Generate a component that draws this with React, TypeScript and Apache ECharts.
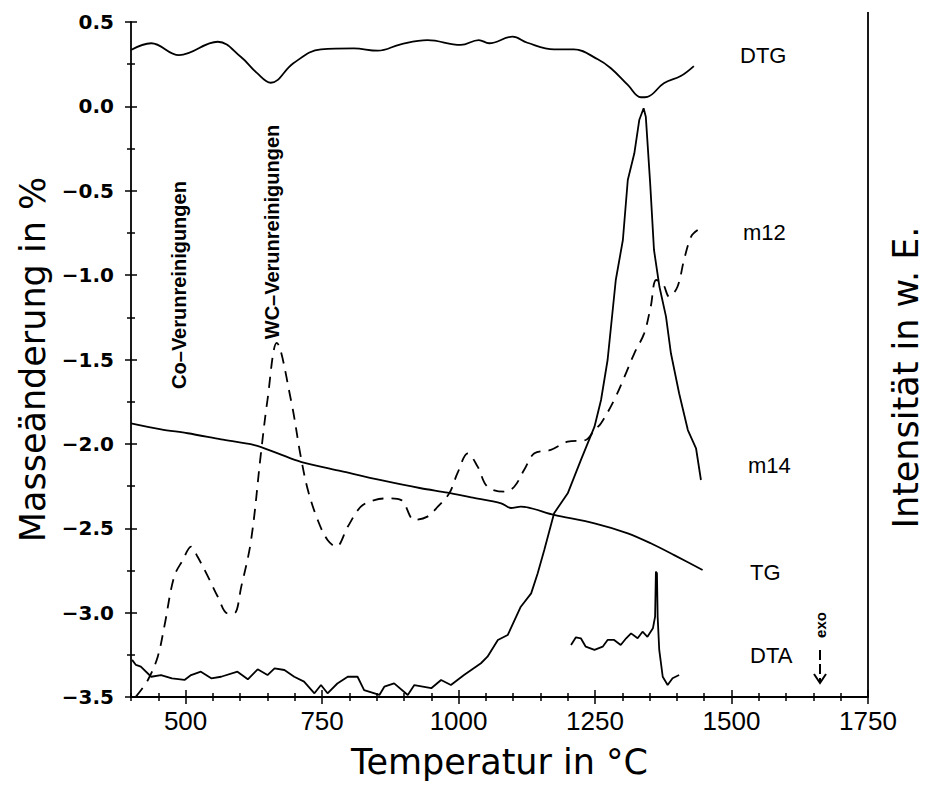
import { useEffect, useRef } from 'react';
import * as echarts from 'echarts';

// Temperature (°C) / value pairs (left-axis units)
const DTG: [number, number][] = [
  [400, 0.334], [437, 0.374], [488, 0.304], [559, 0.383], [601, 0.294],
  [630, 0.2], [656, 0.14], [698, 0.257], [748, 0.338], [808, 0.344],
  [852, 0.33], [894, 0.368], [943, 0.393], [1004, 0.364], [1037, 0.393],
  [1056, 0.374], [1099, 0.413], [1126, 0.377], [1175, 0.338], [1211, 0.338],
  [1255, 0.279], [1279, 0.226], [1310, 0.127], [1334, 0.054], [1346, 0.057],
  [1376, 0.137], [1407, 0.18], [1431, 0.239],
];

const TG: [number, number][] = [
  [400, -1.878], [455, -1.914], [504, -1.937], [565, -1.973], [626, -2.007],
  [669, -2.056], [711, -2.106], [785, -2.161], [858, -2.215], [931, -2.263],
  [980, -2.289], [1023, -2.317], [1078, -2.352], [1096, -2.38], [1114, -2.372],
  [1175, -2.421], [1249, -2.471], [1310, -2.53], [1352, -2.589], [1395, -2.659],
  [1447, -2.747],
];

const M12: [number, number][] = [
  [409, -3.498], [431, -3.399], [449, -3.261], [461, -3.083], [479, -2.787],
  [495, -2.688], [510, -2.609], [522, -2.669], [541, -2.787], [559, -2.906],
  [577, -3.004], [589, -3.004], [602, -2.846], [620, -2.57], [638, -2.056],
  [650, -1.74], [667, -1.402], [693, -1.74], [711, -2.076], [724, -2.273],
  [742, -2.451], [760, -2.57], [776, -2.609], [797, -2.491], [821, -2.372],
  [846, -2.333], [870, -2.323], [895, -2.333], [919, -2.451], [943, -2.431],
  [962, -2.372], [983, -2.293], [998, -2.174], [1017, -2.056], [1035, -2.135],
  [1053, -2.254], [1084, -2.283], [1102, -2.254], [1120, -2.155], [1139, -2.056],
  [1169, -2.036], [1200, -1.987], [1233, -1.977], [1249, -1.918], [1261, -1.878],
  [1285, -1.74], [1304, -1.602], [1322, -1.463], [1340, -1.345], [1352, -1.187],
  [1362, -1.029], [1374, -1.049], [1386, -1.128], [1401, -1.069], [1413, -0.91],
  [1426, -0.772], [1438, -0.733],
];

const M14: [number, number][] = [
  [402, -3.28], [409, -3.31], [418, -3.32], [437, -3.38], [455, -3.37],
  [475, -3.39], [498, -3.399], [510, -3.37], [528, -3.35], [547, -3.389],
  [565, -3.38], [595, -3.35], [614, -3.395], [632, -3.336], [650, -3.37],
  [663, -3.33], [681, -3.34], [699, -3.38], [717, -3.409], [736, -3.478],
  [748, -3.429], [760, -3.478], [778, -3.42], [797, -3.38], [815, -3.38],
  [827, -3.459], [855, -3.488], [864, -3.439], [882, -3.419], [907, -3.488],
  [919, -3.429], [950, -3.448], [968, -3.399], [986, -3.429], [1010, -3.37],
  [1041, -3.3], [1053, -3.261], [1072, -3.162], [1090, -3.133], [1114, -2.965],
  [1133, -2.886], [1145, -2.767], [1157, -2.629], [1175, -2.411], [1200, -2.293],
  [1224, -2.096], [1249, -1.898], [1261, -1.74], [1273, -1.503], [1288, -1.029],
  [1301, -0.792], [1310, -0.436], [1322, -0.278], [1331, -0.081], [1339, -0.011],
  [1343, -0.061], [1351, -0.456], [1358, -0.851], [1368, -1.069], [1380, -1.246],
  [1389, -1.463], [1404, -1.7], [1420, -1.918], [1435, -2.026], [1444, -2.214],
];

const DTA: [number, number][] = [
  [1206, -3.192], [1215, -3.146], [1224, -3.152], [1233, -3.202], [1249, -3.221],
  [1264, -3.202], [1273, -3.162], [1285, -3.162], [1297, -3.192], [1307, -3.152],
  [1316, -3.123], [1328, -3.152], [1337, -3.113], [1346, -3.143], [1356, -3.093],
  [1360, -3.024], [1361.5, -2.757], [1363.4, -2.767], [1364.7, -3.024], [1367.6, -3.221],
  [1374, -3.38], [1383, -3.429], [1392, -3.389], [1404, -3.37],
];

const X_MAJOR = [500, 750, 1000, 1250, 1500, 1750];
const X_MINOR = [
  400, 450, 550, 600, 650, 700, 800, 850, 900, 950, 1050, 1100, 1150, 1200,
  1300, 1350, 1400, 1450, 1550, 1600, 1650, 1700,
];
const CURVE_LABELS = ['DTG', 'm12', 'm14', 'TG', 'DTA'];
const ANNOTATIONS = ['Co\u2013Verunreinigungen', 'WC\u2013Verunreinigungen'];

const BLACK = '#000';
const LW = 1.8;
const TITLE_FONT = { fontFamily: 'DejaVu Sans', fontSize: 35, fontWeight: 'normal', color: BLACK };

function buildOption() {
  const yLabel = (v: number) => (v < 0 ? '\u2212' : '') + Math.abs(v).toFixed(1);
  const baseX = { type: 'value', min: 400, max: 1750, position: 'bottom', splitLine: { show: false } };
  const baseY = { type: 'value', min: -3.5, max: 0.5, interval: 0.5, splitLine: { show: false } };
  const tickStyle = { color: BLACK, width: 1.5 };
  const hiddenLine = { show: false, onZero: false };
  const labelPos: [number, number][] = [[740, 55], [743, 232], [748, 465], [750, 572], [750, 655]];
  const annPos: [number, number][] = [[179, 285], [272, 232]];

  return {
    animation: false,
    backgroundColor: '#fff',
    grid: { left: 131, right: 63, top: 22, bottom: 88 },
    xAxis: [
      {
        ...baseX,
        name: 'Temperatur in °C',
        nameLocation: 'middle',
        nameGap: 47,
        nameTextStyle: TITLE_FONT,
        axisLine: { show: true, onZero: false, lineStyle: { color: BLACK, width: LW } },
        axisTick: { show: true, customValues: X_MAJOR, length: 7, lineStyle: tickStyle },
        axisLabel: {
          show: true, customValues: X_MAJOR, margin: 11, color: BLACK,
          fontFamily: 'Liberation Sans', fontSize: 26, formatter: (v: number) => String(v),
        },
      },
      {
        ...baseX,
        axisLine: hiddenLine,
        axisTick: { show: true, inside: true, customValues: X_MAJOR, length: 7, lineStyle: tickStyle },
        axisLabel: { show: false },
      },
      {
        ...baseX,
        axisLine: hiddenLine,
        axisTick: { show: true, customValues: X_MINOR, length: 4, lineStyle: tickStyle },
        axisLabel: { show: false },
      },
      {
        ...baseX,
        axisLine: hiddenLine,
        axisTick: { show: true, inside: true, customValues: X_MINOR, length: 4, lineStyle: tickStyle },
        axisLabel: { show: false },
      },
    ],
    yAxis: [
      {
        ...baseY,
        position: 'left',
        name: 'Masseänderung in %',
        nameLocation: 'middle',
        nameRotate: 90,
        nameGap: 80,
        nameTextStyle: TITLE_FONT,
        axisLine: { show: true, onZero: false, lineStyle: { color: BLACK, width: LW } },
        axisTick: { show: true, length: 6, lineStyle: tickStyle },
        minorTick: { show: true, splitNumber: 2, length: 4, lineStyle: tickStyle },
        axisLabel: {
          show: true, margin: 17, color: BLACK, fontFamily: 'DejaVu Sans', fontWeight: 'bold',
          fontSize: 20, formatter: yLabel,
        },
      },
      {
        ...baseY,
        position: 'left',
        axisLine: hiddenLine,
        axisTick: { show: true, inside: true, length: 6, lineStyle: tickStyle },
        minorTick: { show: true, splitNumber: 2, length: 4, lineStyle: tickStyle },
        axisLabel: { show: false },
      },
      {
        ...baseY,
        position: 'right',
        name: 'Intensität in w. E.',
        nameLocation: 'middle',
        nameRotate: 90,
        nameGap: 20,
        nameTextStyle: { ...TITLE_FONT, padding: [0, 36, 0, 0] },
        axisLine: hiddenLine,
        axisTick: { show: false },
        axisLabel: { show: false },
      },
    ],
    graphic: [
      { type: 'line', shape: { x1: 868, y1: 12, x2: 868, y2: 697 }, style: { stroke: BLACK, lineWidth: LW } },
      ...CURVE_LABELS.map((t, i) => ({
        type: 'text', x: labelPos[i][0], y: labelPos[i][1],
        style: {
          text: t, fill: BLACK, fontFamily: 'Liberation Sans', fontSize: 22,
          align: 'left', verticalAlign: 'middle',
        },
      })),
      ...ANNOTATIONS.map((t, i) => ({
        type: 'text', x: annPos[i][0], y: annPos[i][1], rotation: Math.PI / 2,
        style: {
          text: t, fill: BLACK, fontFamily: 'Liberation Sans', fontWeight: 'bold', fontSize: 20,
          align: 'center', verticalAlign: 'middle',
        },
      })),
      {
        type: 'text', x: 820, y: 625, rotation: Math.PI / 2,
        style: {
          text: 'exo', fill: BLACK, fontFamily: 'Liberation Sans', fontWeight: 'bold', fontSize: 15,
          align: 'center', verticalAlign: 'middle',
        },
      },
      {
        type: 'line', shape: { x1: 820, y1: 650, x2: 820, y2: 682 },
        style: { stroke: BLACK, lineWidth: 2, lineDash: [10, 4] },
      },
      {
        type: 'polyline', shape: { points: [[814, 674], [820, 683], [826, 674]] },
        style: { stroke: BLACK, lineWidth: 2, fill: 'none' },
      },
    ],
    series: [
      { name: 'DTG', type: 'line', data: DTG, smooth: 0.4, showSymbol: false, lineStyle: { color: BLACK, width: LW } },
      { name: 'TG', type: 'line', data: TG, smooth: 0.3, showSymbol: false, lineStyle: { color: BLACK, width: LW } },
      { name: 'm12', type: 'line', data: M12, smooth: 0.35, showSymbol: false, lineStyle: { color: BLACK, width: LW, type: [11, 8] } },
      { name: 'm14', type: 'line', data: M14, smooth: false, showSymbol: false, lineStyle: { color: BLACK, width: LW } },
      { name: 'DTA', type: 'line', data: DTA, smooth: false, showSymbol: false, lineStyle: { color: BLACK, width: LW } },
    ],
  };
}

export default function App() {
  const ref = useRef<HTMLDivElement>(null);
  useEffect(() => {
    document.body.style.margin = '0';
    const chart = echarts.init(ref.current!, null, { renderer: 'svg' });
    chart.setOption(buildOption() as any);
    return () => chart.dispose();
  }, []);
  return <div ref={ref} style={{ width: 931, height: 785, background: '#fff' }} />;
}
